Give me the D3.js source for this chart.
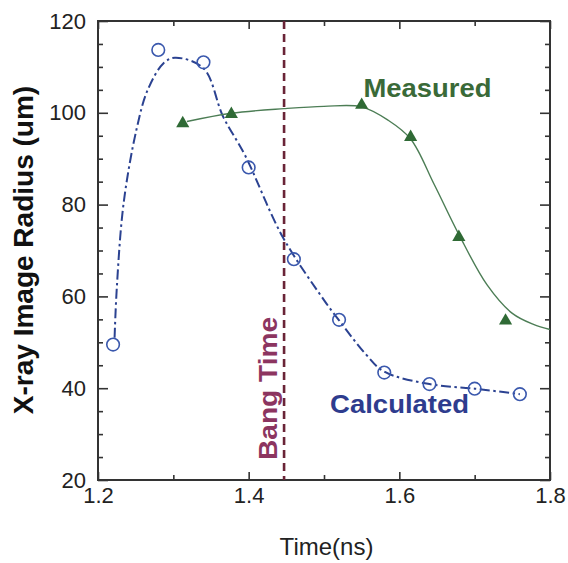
<!DOCTYPE html>
<html>
<head>
<meta charset="utf-8">
<script src="https://cdn.jsdelivr.net/npm/d3@7"></script>
<style>
  body { margin: 0; background: #fff; }
  svg { font-family: Arial, "Liberation Sans", sans-serif; }
</style>
</head>
<body>
<div id="vis"></div>
<script>
const width = 568;
const height = 563;

// calculated radius (open circles)
const calcTime = [1.22, 1.28, 1.34, 1.40, 1.46, 1.52, 1.58, 1.64, 1.70, 1.76];
const calcRadius = [49.5, 113.7, 111.0, 88.1, 68.1, 54.9, 43.4, 40.9, 39.9, 38.7];
// fitted dash-dot curve through the calculated points
const calcFitTime = [1.222, 1.225, 1.234, 1.251, 1.266, 1.287, 1.302, 1.34, 1.366, 1.395, 1.445, 1.5, 1.52, 1.555, 1.58, 1.64, 1.70, 1.76];
const calcFitRadius = [51, 62, 80.3, 96.3, 105, 110.8, 112, 109.7, 99.2, 90.8, 73, 59.2, 54.8, 47.5, 43.6, 40.9, 39.9, 38.7];

// measured radius (filled triangles)
const measTime = [1.3125, 1.377, 1.550, 1.615, 1.679, 1.741];
const measRadius = [97.7, 99.7, 101.7, 94.7, 72.9, 54.7];
const measFitTime = [1.318, 1.377, 1.447, 1.5, 1.55, 1.585, 1.615, 1.646, 1.679, 1.7165, 1.75, 1.778, 1.8];
const measFitRadius = [98.1, 99.9, 100.9, 101.4, 101.3, 98.4, 94.3, 84.5, 73.5, 62.5, 56.3, 53.9, 52.8];

const bangTime = 1.447;

const xMajor = [1.2, 1.4, 1.6, 1.8];
const xMinor = [1.3, 1.5, 1.7];
const yMajor = [20, 40, 60, 80, 100, 120];
const yMinor = d3.range(25, 120, 5).filter(v => v % 20 !== 0);

const margin = { top: 21, right: 18, bottom: 83, left: 98 };

window.onload = function () {
  const svg = d3.select("#vis").append("svg")
    .attr("width", width)
    .attr("height", height);

  const x = d3.scaleLinear().domain([1.2, 1.8]).range([margin.left, width - margin.right]);
  const y = d3.scaleLinear().domain([20, 120]).range([height - margin.bottom, margin.top]);

  const axisColor = "#333";

  // ticks (all pointing inward), labels only on bottom and left
  function drawAxis(gen, transform, vals, size, labels) {
    const g = svg.append("g")
      .attr("transform", transform)
      .call(gen.tickValues(vals).tickSize(size).tickPadding(labels ? 12 : 0)
        .tickFormat(labels ? d3.format(".1~f") : ""));
    g.select(".domain").remove();
    g.selectAll(".tick line").attr("stroke", axisColor).attr("stroke-width", 1.6);
    g.selectAll(".tick text").attr("fill", "#222").style("font-size", "22px");
    return g;
  }
  const bottomY = height - margin.bottom;
  const rightX = width - margin.right;

  drawAxis(d3.axisBottom(x), `translate(0,${bottomY})`, xMajor, -8, true)
    .selectAll(".tick text").attr("dy", "0.75em").attr("y", 6);
  drawAxis(d3.axisBottom(x), `translate(0,${bottomY})`, xMinor, -5, false);
  drawAxis(d3.axisTop(x), `translate(0,${margin.top})`, xMajor, -8, false);
  drawAxis(d3.axisTop(x), `translate(0,${margin.top})`, xMinor, -5, false);
  drawAxis(d3.axisLeft(y), `translate(${margin.left},0)`, yMajor, -10, true);
  drawAxis(d3.axisLeft(y), `translate(${margin.left},0)`, yMinor, -5, false);
  drawAxis(d3.axisRight(y), `translate(${rightX},0)`, yMajor, -10, false);
  drawAxis(d3.axisRight(y), `translate(${rightX},0)`, yMinor, -5, false);

  // frame
  svg.append("rect")
    .attr("x", margin.left).attr("y", margin.top)
    .attr("width", rightX - margin.left).attr("height", bottomY - margin.top)
    .attr("fill", "none").attr("stroke", axisColor).attr("stroke-width", 2);

  // bang time line
  svg.append("line")
    .attr("x1", x(bangTime)).attr("x2", x(bangTime))
    .attr("y1", margin.top).attr("y2", bottomY)
    .attr("stroke", "#6a2437").attr("stroke-width", 2.6)
    .attr("stroke-dasharray", "8,5");

  const line = d3.line().curve(d3.curveCatmullRom.alpha(0.5)).x(d => x(d[0])).y(d => y(d[1]));

  // calculated
  svg.append("path")
    .attr("d", line(d3.zip(calcFitTime, calcFitRadius)))
    .attr("fill", "none").attr("stroke", "#2b4291").attr("stroke-width", 2)
    .attr("stroke-dasharray", "10,3.5,2.5,3.5");

  svg.selectAll(".calc").data(d3.zip(calcTime, calcRadius)).enter().append("circle")
    .attr("class", "calc")
    .attr("cx", d => x(d[0])).attr("cy", d => y(d[1])).attr("r", 6.3)
    .attr("fill", "none").attr("stroke", "#3a58ad").attr("stroke-width", 1.6);

  // measured
  svg.append("path")
    .attr("d", line(d3.zip(measFitTime, measFitRadius)))
    .attr("fill", "none").attr("stroke", "#4c7d55").attr("stroke-width", 1.4);

  const tri = d3.symbol().type(d3.symbolTriangle).size(75);
  svg.selectAll(".meas").data(d3.zip(measTime, measRadius)).enter().append("path")
    .attr("class", "meas")
    .attr("d", tri)
    .attr("transform", d => `translate(${x(d[0])},${y(d[1])})`)
    .attr("fill", "#2f6a35");

  // labels
  svg.append("text")
    .attr("x", 427.5).attr("y", 96.7)
    .attr("text-anchor", "middle")
    .attr("textLength", 128).attr("lengthAdjust", "spacingAndGlyphs")
    .style("font-size", "26px").style("font-weight", "bold")
    .attr("fill", "#3a6a38")
    .text("Measured");

  svg.append("text")
    .attr("x", 399.6).attr("y", 412.7)
    .attr("text-anchor", "middle")
    .attr("textLength", 139).attr("lengthAdjust", "spacingAndGlyphs")
    .style("font-size", "26px").style("font-weight", "bold")
    .attr("fill", "#2e3c8e")
    .text("Calculated");

  svg.append("text")
    .attr("transform", "translate(277,388.5) rotate(-90)")
    .attr("text-anchor", "middle")
    .attr("textLength", 143).attr("lengthAdjust", "spacingAndGlyphs")
    .style("font-size", "25px").style("font-weight", "bold")
    .attr("fill", "#8c3560")
    .text("Bang Time");

  // axis titles
  svg.append("text")
    .attr("transform", "translate(33,250) rotate(-90)")
    .attr("text-anchor", "middle")
    .style("font-size", "28px").style("font-weight", "bold")
    .attr("fill", "#111")
    .text("X-ray Image Radius (um)");

  svg.append("text")
    .attr("x", 326.5).attr("y", 555)
    .attr("text-anchor", "middle")
    .style("font-size", "24px")
    .attr("fill", "#222")
    .text("Time(ns)");
};
</script>
</body>
</html>
